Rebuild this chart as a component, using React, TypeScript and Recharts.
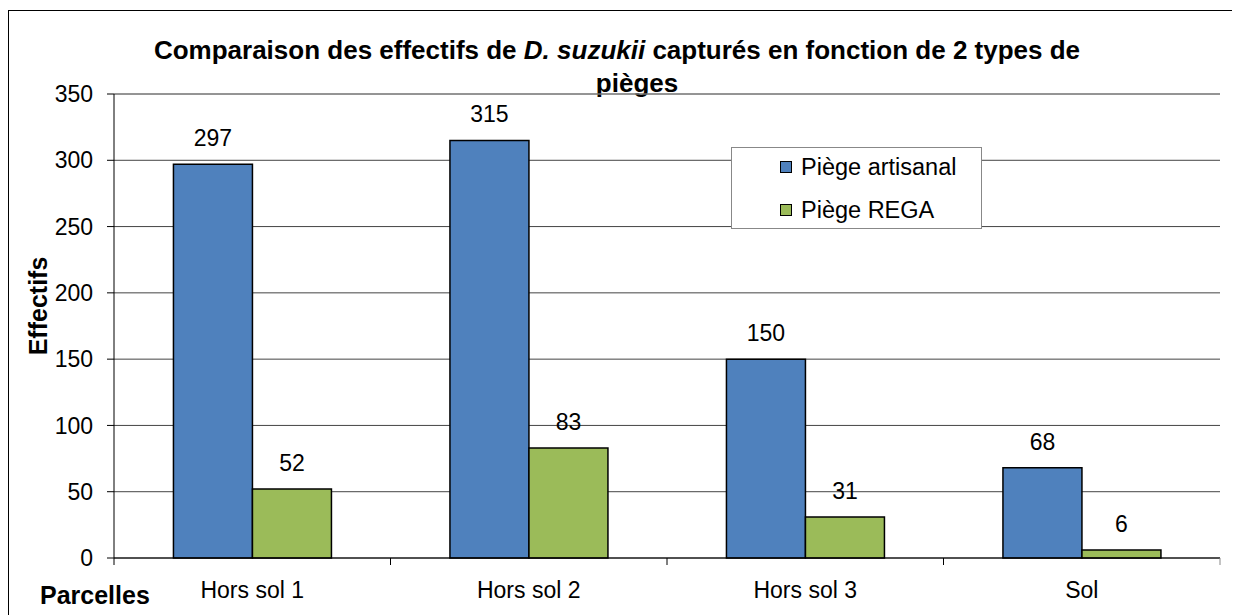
import React from "react";
import {
  BarChart,
  Bar,
  XAxis,
  YAxis,
  CartesianGrid,
  Legend,
  LabelList,
  ReferenceLine,
} from "recharts";

const parcelles = ["Hors sol 1", "Hors sol 2", "Hors sol 3", "Sol"];
const artisanal = [297, 315, 150, 68];
const rega = [52, 83, 31, 6];
const yTicks = [0, 50, 100, 150, 200, 250, 300, 350];

const data = parcelles.map((p, i) => ({
  name: p,
  artisanal: artisanal[i],
  rega: rega[i],
}));

const FONT = '"Liberation Sans", Arial, sans-serif';
const W = 1231;
const H = 604;
const PLOT_LEFT = 105;
const PLOT_RIGHT = 1211;
const PLOT_BOTTOM = 547;
const BAND = (PLOT_RIGHT - PLOT_LEFT) / parcelles.length;

function XTick(props: any) {
  const { x, payload, index } = props;
  const left = x - BAND / 2;
  return (
    <g>
      <line x1={left} x2={left} y1={PLOT_BOTTOM} y2={PLOT_BOTTOM + 7} stroke="#000" />
      {index === parcelles.length - 1 && (
        <line x1={x + BAND / 2} x2={x + BAND / 2} y1={PLOT_BOTTOM} y2={PLOT_BOTTOM + 7} stroke="#888" />
      )}
      <text x={x} y={PLOT_BOTTOM + 40} textAnchor="middle" fontSize={23} fill="#000" fontFamily={FONT}>
        {payload.value}
      </text>
    </g>
  );
}

function LegendBox(props: any) {
  const { payload } = props;
  return (
    <div
      style={{
        width: 251,
        height: 82,
        border: "1px solid #888",
        background: "#fff",
        boxSizing: "border-box",
        fontFamily: FONT,
        fontSize: 23.5,
        position: "relative",
      }}
    >
      {(payload || []).map((e: any, i: number) => (
        <div
          key={i}
          style={{
            position: "absolute",
            left: 48,
            top: 5 + i * 43,
            display: "flex",
            alignItems: "center",
            height: 28,
            whiteSpace: "nowrap",
          }}
        >
          <span
            style={{
              display: "inline-block",
              width: 10,
              height: 10,
              background: e.color,
              border: "1px solid #000",
              marginRight: 9,
            }}
          />
          <span>{e.value}</span>
        </div>
      ))}
    </div>
  );
}

export default function App() {
  return (
    <div
      style={{
        position: "relative",
        marginTop: 2,
        width: W,
        height: H + 1,
        borderLeft: "1px solid #000",
        borderTop: "1px solid #000",
        fontFamily: FONT,
        overflow: "hidden",
      }}
    >
      <div
        style={{
          position: "absolute",
          left: 0,
          width: 1216,
          top: 23,
          textAlign: "center",
          fontWeight: "bold",
          fontSize: 26,
          lineHeight: "32px",
          whiteSpace: "nowrap",
        }}
      >
        Comparaison des effectifs de <i>D. suzukii</i> capturés en fonction de 2 types de
      </div>
      <div
        style={{
          position: "absolute",
          left: 0,
          width: 1256,
          top: 56,
          textAlign: "center",
          fontWeight: "bold",
          fontSize: 26,
          lineHeight: "32px",
        }}
      >
        pièges
      </div>
      <BarChart
        width={W}
        height={H}
        data={data}
        margin={{ top: 83, right: W - PLOT_RIGHT, bottom: 12, left: 0 }}
        barCategoryGap="21.5%"
        barGap={0}
      >
        <CartesianGrid vertical={false} stroke="#444" strokeWidth={1} />
        <ReferenceLine y={350} stroke="#888" />
        <XAxis
          dataKey="name"
          height={45}
          axisLine={{ stroke: "#000" }}
          tickLine={false}
          tick={<XTick />}
          interval={0}
        />
        <YAxis
          width={PLOT_LEFT}
          domain={[0, 350]}
          ticks={yTicks}
          interval={0}
          axisLine={{ stroke: "#000" }}
          tickLine={{ stroke: "#000" }}
          tickSize={7}
          tickMargin={14}
          tick={{ fontSize: 23, fill: "#000", fontFamily: FONT }}
        />
        <YAxis
          yAxisId="r"
          orientation="right"
          width={0}
          domain={[0, 350]}
          tick={false}
          tickLine={false}
          axisLine={{ stroke: "#888" }}
        />
        <Legend
          layout="vertical"
          align="center"
          verticalAlign="middle"
          itemSorter="dataKey"
          content={<LegendBox />}
          wrapperStyle={{ position: "absolute", left: 722, top: 136, width: 251 }}
        />
        <Bar
          dataKey="artisanal"
          name="Piège artisanal"
          fill="#4F81BD"
          stroke="#000"
          strokeWidth={1.5}
          isAnimationActive={false}
        >
          <LabelList dataKey="artisanal" position="top" offset={18} fontSize={23} fill="#000" fontFamily={FONT} />
        </Bar>
        <Bar
          dataKey="rega"
          name="Piège REGA"
          fill="#9BBB59"
          stroke="#000"
          strokeWidth={1.5}
          isAnimationActive={false}
        >
          <LabelList dataKey="rega" position="top" offset={18} fontSize={23} fill="#000" fontFamily={FONT} />
        </Bar>
      </BarChart>
      <div
        style={{
          position: "absolute",
          left: 29,
          top: 295,
          width: 0,
          height: 0,
        }}
      >
        <div
          style={{
            position: "absolute",
            left: 0,
            top: 0,
            transform: "translate(-50%, -50%) rotate(-90deg)",
            fontWeight: "bold",
            fontSize: 25,
            whiteSpace: "nowrap",
          }}
        >
          Effectifs
        </div>
      </div>
      <div
        style={{
          position: "absolute",
          left: 31,
          top: 570,
          fontWeight: "bold",
          fontSize: 25,
        }}
      >
        Parcelles
      </div>
    </div>
  );
}
